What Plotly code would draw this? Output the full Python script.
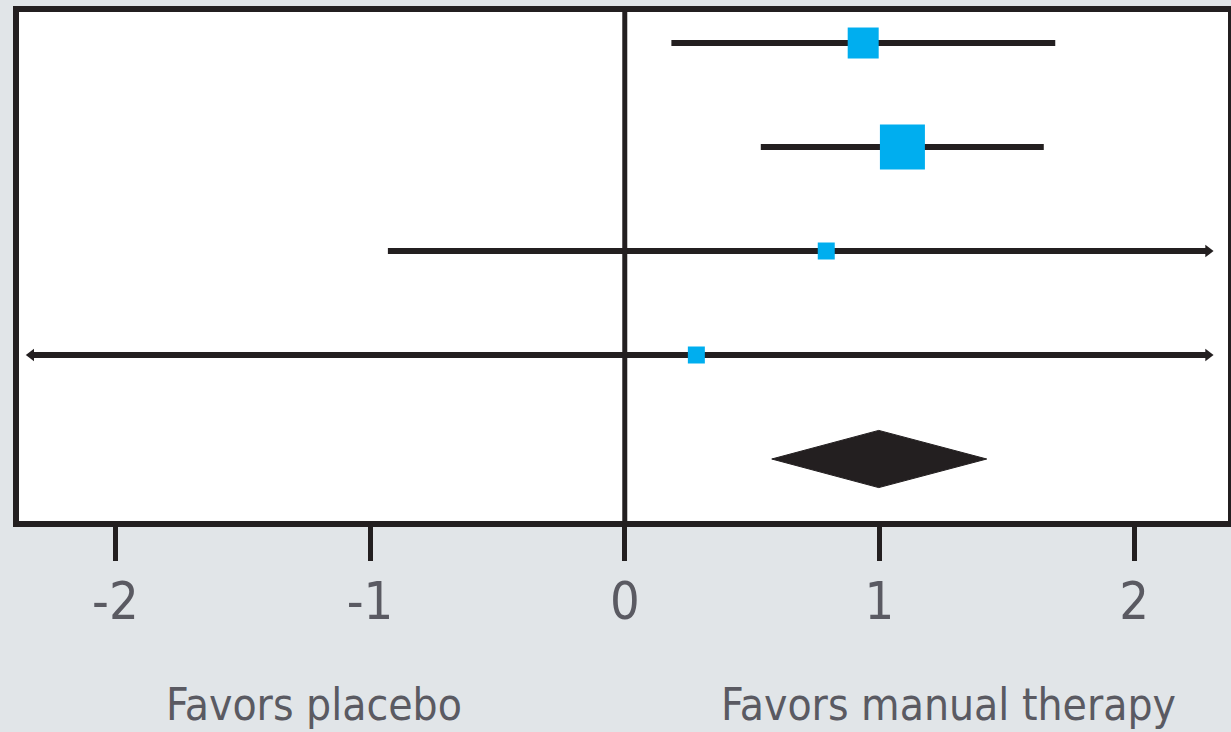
import plotly.graph_objects as go

# ---- data ----
rows = [0, 1, 2, 3]                      # study rows, top to bottom
effect = [0.936, 1.09, 0.791, 0.281]     # point estimates
ci_lower = [0.183, 0.534, -0.93, -2.33]  # lower CI (clipped where arrow)
ci_upper = [1.69, 1.645, 2.29, 2.29]     # upper CI (clipped where arrow)
lower_arrow = [False, False, False, True]
upper_arrow = [False, False, True, True]
weight_px = [31, 45, 17, 17]             # square size ~ study weight

pooled_row = 4
pooled_est = 0.997
pooled_lo = 0.577
pooled_hi = 1.421

tick_vals = [-2, -1, 0, 1, 2]
tick_text = ["-2", "-1", "0", "1", "2"]
label_left = "Favors placebo"
label_right = "Favors manual therapy"

DARK = "#231f20"
CYAN = "#00aeef"
BG = "#e1e5e8"
TXT = "#5a5a62"
FONT = "DejaVu Sans Condensed, Liberation Sans Narrow, sans-serif"

fig = go.Figure()

# CI lines
for r, lo, hi in zip(rows, ci_lower, ci_upper):
    fig.add_trace(go.Scatter(x=[lo, hi], y=[r, r], mode="lines",
                             line=dict(color=DARK, width=6),
                             hoverinfo="skip", showlegend=False))

# arrowheads for truncated CIs
ax_r = [hi for hi, a in zip(ci_upper, upper_arrow) if a]
ay_r = [r for r, a in zip(rows, upper_arrow) if a]
ax_l = [lo for lo, a in zip(ci_lower, lower_arrow) if a]
ay_l = [r for r, a in zip(rows, lower_arrow) if a]
fig.add_trace(go.Scatter(x=ax_r, y=ay_r, mode="markers",
                         marker=dict(symbol="triangle-right", size=11, color=DARK, opacity=1),
                         hoverinfo="skip", showlegend=False))
fig.add_trace(go.Scatter(x=ax_l, y=ay_l, mode="markers",
                         marker=dict(symbol="triangle-left", size=11, color=DARK, opacity=1),
                         hoverinfo="skip", showlegend=False))

# point estimates
fig.add_trace(go.Scatter(x=effect, y=rows, mode="markers",
                         marker=dict(symbol="square", size=weight_px, color=CYAN,
                                     opacity=1, line=dict(width=0)),
                         showlegend=False))

# pooled diamond
h = 0.275
fig.add_trace(go.Scatter(
    x=[pooled_lo, pooled_est, pooled_hi, pooled_est, pooled_lo],
    y=[pooled_row, pooled_row - h, pooled_row, pooled_row + h, pooled_row],
    mode="lines", fill="toself", fillcolor=DARK,
    line=dict(color=DARK, width=1), showlegend=False, hoverinfo="skip"))

# zero reference line
fig.add_shape(type="line", xref="x", yref="paper", x0=0, x1=0, y0=0, y1=1,
              line=dict(color=DARK, width=5), layer="above")
# frame
fig.add_shape(type="rect", xref="paper", yref="paper", x0=0, x1=1, y0=0, y1=1,
              line=dict(color=DARK, width=6), layer="above")

fig.add_annotation(text=label_left, x=-1.22, y=-0.3505, xref="x", yref="paper",
                   showarrow=False, xanchor="center", yanchor="middle",
                   font=dict(family=FONT, size=44, color=TXT))
fig.add_annotation(text=label_right, x=1.27, y=-0.3505, xref="x", yref="paper",
                   showarrow=False, xanchor="center", yanchor="middle",
                   font=dict(family=FONT, size=44, color=TXT))

fig.update_layout(
    width=1231, height=732,
    margin=dict(l=16, r=0, t=9, b=208),
    paper_bgcolor=BG, plot_bgcolor="white",
    showlegend=False,
    xaxis=dict(range=[-2.39, 2.38], tickvals=tick_vals, ticktext=tick_text,
               ticks="outside", ticklen=36, tickwidth=5, tickcolor=DARK,
               ticklabelstandoff=-4,
               showgrid=False, zeroline=False, showline=False,
               tickfont=dict(family=FONT, size=52, color=TXT), fixedrange=True),
    yaxis=dict(range=[4.625, -0.327], showticklabels=False, ticks="",
               showgrid=False, zeroline=False, showline=False, fixedrange=True),
)

fig.write_html("out.html", config={"displayModeBar": False},
               post_script="document.body.style.margin='0';document.body.style.background='#e1e5e8';")
